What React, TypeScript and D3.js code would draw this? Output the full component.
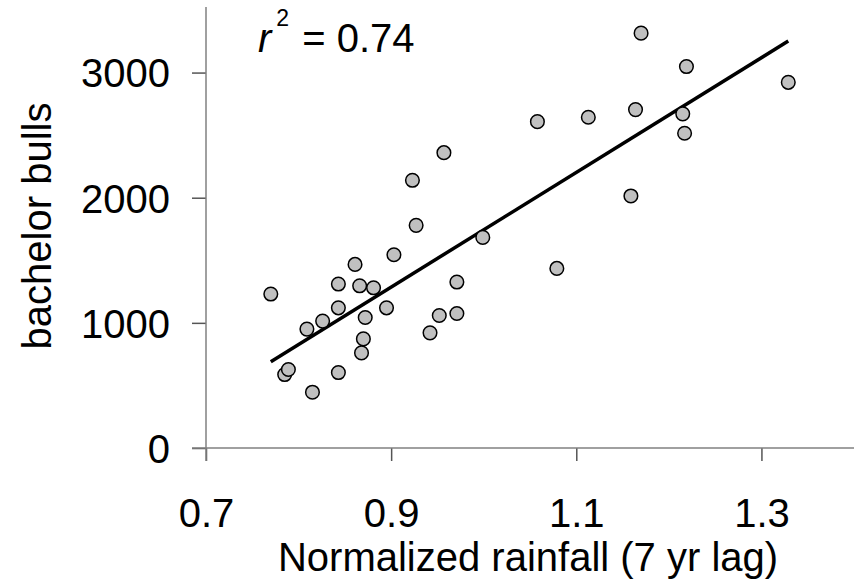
import * as d3 from 'd3';
import { FC, useEffect, useRef } from 'react';

const rainfall = [
  0.77, 0.785, 0.789, 0.809, 0.815, 0.826, 0.843, 0.843, 0.843, 0.861, 0.866, 0.868,
  0.87, 0.872, 0.881, 0.895, 0.903, 0.923, 0.927, 0.942, 0.952, 0.957, 0.971, 0.971,
  0.999, 1.058, 1.079, 1.113, 1.159, 1.164, 1.17, 1.215, 1.217, 1.219, 1.329,
];
const bulls = [
  1230, 587, 627, 950, 446, 1014, 1310, 1120, 603, 1467, 1296, 760,
  872, 1043, 1280, 1120, 1544, 2139, 1779, 920, 1059, 2360, 1326, 1075,
  1683, 2608, 1435, 2643, 2014, 2704, 3315, 2670, 2515, 3048, 2922,
];
const xTicks = [0.7, 0.9, 1.1, 1.3];
const yTicks = [0, 1000, 2000, 3000];
// fitted regression line
const fitSlope = 4583;
const fitIntercept = -2839;

const width = 861;
const height = 585;
const margins = { top: 10, right: 7, bottom: 137, left: 206 };
const font = '"Liberation Sans", Arial, sans-serif';

export const Scatter: FC = () => {
  const ref = useRef<SVGSVGElement>(null);

  useEffect(() => {
    drawChart();
  }, []);

  const drawChart = () => {
    const root = d3.select(ref.current);
    root.selectAll('*').remove();

    const w = width - margins.left - margins.right;
    const h = height - margins.top - margins.bottom;

    const x = d3.scaleLinear().domain([0.7, 1.4]).range([0, w]);
    const y = d3.scaleLinear().domain([0, 3500]).range([h, 0]);

    const svg = root
      .append('g')
      .attr('transform', `translate(${margins.left},${margins.top})`);

    // axes
    const xAxis = svg
      .append('g')
      .attr('transform', `translate(0,${h})`)
      .call(
        d3
          .axisBottom(x)
          .tickValues(xTicks)
          .tickSize(13)
          .tickFormat(d3.format('.1f'))
      );
    const yAxis = svg
      .append('g')
      .call(
        d3
          .axisLeft(y)
          .tickValues(yTicks)
          .tickSize(14)
          .tickPadding(22)
          .tickFormat(d3.format('d'))
      );

    [xAxis, yAxis].forEach((g) => {
      g.select('.domain').remove();
      g.selectAll('line').attr('stroke', '#555').attr('stroke-width', 1.5);
      g.selectAll('text')
        .attr('fill', '#000')
        .style('font-family', font)
        .style('font-size', '40px');
    });
    yAxis.selectAll('text').attr('dy', '0.36em');
    xAxis.selectAll('text').attr('y', 79).attr('dy', 0);

    svg
      .append('line')
      .attr('x1', -14)
      .attr('x2', w)
      .attr('y1', h)
      .attr('y2', h)
      .attr('stroke', '#808080')
      .attr('stroke-width', 1.5);
    svg
      .append('line')
      .attr('x1', 0)
      .attr('x2', 0)
      .attr('y1', -3)
      .attr('y2', h + 13)
      .attr('stroke', '#808080')
      .attr('stroke-width', 1.5);

    // regression line
    const xr = d3.extent(rainfall) as [number, number];
    svg
      .append('line')
      .attr('x1', x(xr[0]))
      .attr('y1', y(fitSlope * xr[0] + fitIntercept))
      .attr('x2', x(xr[1]))
      .attr('y2', y(fitSlope * xr[1] + fitIntercept))
      .attr('stroke', '#000')
      .attr('stroke-width', 3.5);

    // points
    svg
      .selectAll('.dot')
      .data(rainfall)
      .enter()
      .append('circle')
      .attr('class', 'dot')
      .attr('cx', (d) => x(d))
      .attr('cy', (_d, i) => y(bulls[i]))
      .attr('r', 6.8)
      .attr('fill', '#c0c0c0')
      .attr('stroke', '#000')
      .attr('stroke-width', 1.5);

    // r squared
    const r2 = svg
      .append('text')
      .attr('x', 258 - margins.left)
      .attr('y', 52 - margins.top)
      .style('font-family', font)
      .style('font-size', '40px')
      .attr('fill', '#000');
    r2.append('tspan').style('font-style', 'italic').text('r');
    r2.append('tspan').attr('dx', 5).attr('dy', -26).style('font-size', '23px').text('2');
    r2.append('tspan').attr('dx', 2).attr('dy', 26).text(' = 0.74');

    // axis titles
    svg
      .append('text')
      .attr('x', 528 - margins.left)
      .attr('y', 571 - margins.top)
      .style('text-anchor', 'middle')
      .style('font-family', font)
      .style('font-size', '40px')
      .text('Normalized rainfall (7 yr lag)');

    svg
      .append('text')
      .attr('transform', 'rotate(-90)')
      .attr('x', -(226 - margins.top))
      .attr('y', 51 - margins.left)
      .style('text-anchor', 'middle')
      .style('font-family', font)
      .style('font-size', '40px')
      .text('bachelor bulls');
  };

  return (
    <svg
      ref={ref}
      width={width}
      height={height}
      style={{ position: 'absolute', left: 0, top: 0, background: '#fff' }}
    />
  );
};

export default function App() {
  return <Scatter />;
}
